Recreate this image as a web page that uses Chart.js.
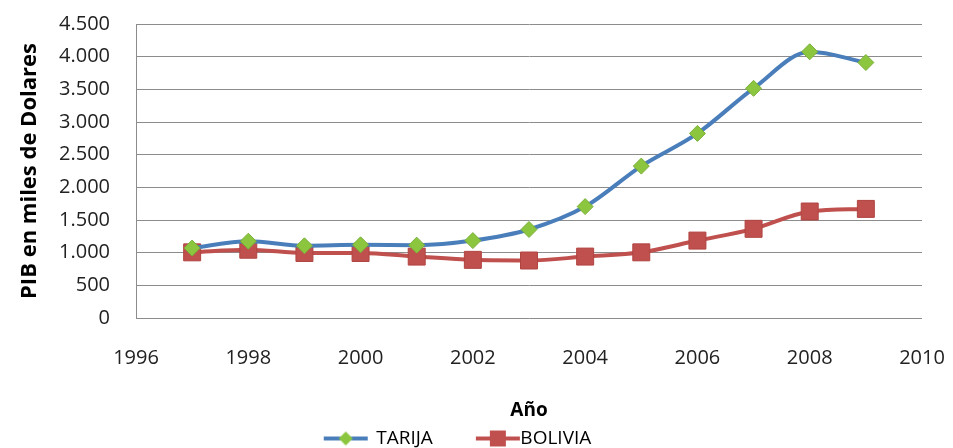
<!DOCTYPE html>
<html>
<head>
<meta charset="utf-8">
<script src="https://cdn.jsdelivr.net/npm/chart.js@4.4.1/dist/chart.umd.min.js"></script>
<style>
  html, body { margin: 0; padding: 0; background: #fff; }
  #wrap { width: 953px; height: 448px; }
</style>
</head>
<body>
<div id="wrap"><canvas id="chart"></canvas></div>
<script>
// anos y PIB (miles de dolares)
const years = [1997, 1998, 1999, 2000, 2001, 2002, 2003, 2004, 2005, 2006, 2007, 2008, 2009];
const tarija = [1070, 1175, 1105, 1120, 1115, 1185, 1355, 1705, 2325, 2825, 3515, 4075, 3910];
const bolivia = [1005, 1045, 995, 995, 940, 890, 880, 940, 1005, 1185, 1365, 1630, 1670];
const seriesNames = ['TARIJA', 'BOLIVIA'];

const BLUE = '#4a7ebb';
const GREEN = '#8cc63f';
const RED = '#c0504d';

const FONT = '"Open Sans", "Noto Sans", sans-serif';

// icono de leyenda: linea + marcador, desplazado respecto al centro de la caja
function legendIcon(lineColor, markerColor, shape, from, to) {
  const c = document.createElement('canvas');
  c.width = 80; c.height = 20;
  const g = c.getContext('2d');
  const x1 = 40 + from, x2 = 40 + to, mid = (x1 + x2) / 2;
  g.strokeStyle = lineColor;
  g.lineWidth = 4;
  g.beginPath(); g.moveTo(x1, 10); g.lineTo(x2, 10); g.stroke();
  g.fillStyle = markerColor;
  if (shape === 'diamond') {
    g.beginPath();
    g.moveTo(mid, 3); g.lineTo(mid + 7, 10); g.lineTo(mid, 17); g.lineTo(mid - 7, 10);
    g.closePath(); g.fill();
  } else {
    g.fillRect(mid - 8, 2, 16, 16);
  }
  return c;
}

const toPoints = vals => years.map((y, i) => ({ x: y, y: vals[i] }));
const fmt = v => Math.round(v).toString().replace(/\B(?=(\d{3})+(?!\d))/g, '.');

const ctx = document.getElementById('chart').getContext('2d');
new Chart(ctx, {
  type: 'line',
  data: {
    datasets: [
      {
        label: seriesNames[0],
        data: toPoints(tarija),
        borderColor: BLUE,
        borderWidth: 4,
        backgroundColor: GREEN,
        pointStyle: 'rectRot',
        pointRadius: 8,
        pointBorderColor: '#7aaf3a',
        pointBorderWidth: 1,
        pointBackgroundColor: GREEN,
        cubicInterpolationMode: 'monotone',
        clip: false,
        legendIcon: legendIcon(BLUE, GREEN, 'diamond', -20, 24)
      },
      {
        label: seriesNames[1],
        data: toPoints(bolivia),
        borderColor: RED,
        borderWidth: 4,
        backgroundColor: RED,
        pointStyle: 'rect',
        pointRadius: 12,
        pointBorderColor: '#b04441',
        pointBorderWidth: 1,
        pointBackgroundColor: RED,
        cubicInterpolationMode: 'monotone',
        clip: false,
        legendIcon: legendIcon(RED, RED, 'square', -12, 32)
      }
    ]
  },
  options: {
    responsive: true,
    maintainAspectRatio: false,
    animation: false,
    layout: { autoPadding: false, padding: { left: -10, right: 31, top: 24, bottom: -10 } },
    plugins: {
      tooltip: { enabled: false },
      legend: {
        display: true,
        position: 'bottom',
        labels: {
          usePointStyle: true,
          pointStyleWidth: 46,
          boxHeight: 20,
          color: '#000',
          font: { family: FONT, size: 19 },
          padding: 32,
          generateLabels: chart => chart.data.datasets.map((ds, i) => ({
            text: ds.label,
            pointStyle: ds.legendIcon,
            fillStyle: ds.borderColor,
            strokeStyle: ds.borderColor,
            lineWidth: 0,
            datasetIndex: i,
            fontColor: '#000'
          }))
        }
      }
    },
    scales: {
      x: {
        type: 'linear',
        min: 1996,
        max: 2010,
        ticks: {
          stepSize: 2,
          padding: 0,
          color: '#222',
          font: { family: FONT, size: 20 },
          callback: v => v
        },
        grid: { display: false, drawTicks: true, tickLength: 28, tickColor: 'rgba(0,0,0,0)' },
        border: { display: false },
        title: {
          display: true,
          text: 'Año',
          color: '#000',
          font: { family: FONT, size: 19, weight: 'bold' },
          padding: { top: 0, bottom: -25 }
        },
        afterFit: scale => { scale.height = 79; }
      },
      y: {
        min: 0,
        max: 4500,
        ticks: {
          stepSize: 500,
          padding: 0,
          color: '#222',
          font: { family: FONT, size: 20 },
          callback: v => fmt(v)
        },
        grid: { color: '#8c8c8c', lineWidth: 1, drawTicks: true, tickLength: 26, tickColor: 'rgba(0,0,0,0)' },
        border: { display: true, color: '#8c8c8c' },
        title: {
          display: true,
          text: 'PIB en miles de Dolares',
          color: '#000',
          font: { family: FONT, size: 22, weight: 'bold' },
          padding: { top: 27, bottom: 0 }
        },
        afterFit: scale => { scale.width = 146; }
      }
    }
  }
});
</script>
</body>
</html>
